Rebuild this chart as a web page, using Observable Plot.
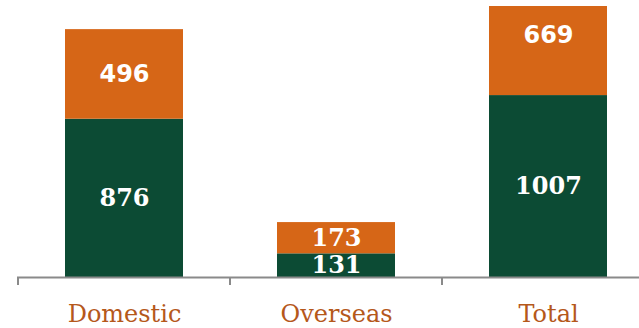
<!DOCTYPE html>
<html>
<head>
<meta charset="utf-8">
<script src="https://cdn.jsdelivr.net/npm/d3@7"></script>
<script src="https://cdn.jsdelivr.net/npm/@observablehq/plot@0.6"></script>
<style>
  html, body { margin: 0; padding: 0; background: #fff; }
  #chart svg { display: block; }
</style>
</head>
<body>
<div id="chart"></div>
<script>
const categories = ["Domestic", "Overseas", "Total"];
const seriesNames = ["Lower", "Upper"];
const lowerValues = [876, 131, 1007];
const upperValues = [496, 173, 669];

const GREEN = "#0c4b34";
const ORANGE = "#d66617";

const data = [];
categories.forEach((c, i) => {
  data.push({category: c, series: seriesNames[0], value: lowerValues[i]});
  data.push({category: c, series: seriesNames[1], value: upperValues[i]});
});

const stackOpts = {x: "category", y: "value", z: "series", order: seriesNames};

// tick marks at band boundaries, computed from the x scale
const boundaryTicks = (index, scales, values, dimensions, context) => {
  const x = scales.x, y = scales.y;
  const bw = typeof x.bandwidth === "function" ? x.bandwidth() : x.bandwidth;
  const step = x(categories[1]) - x(categories[0]);
  const g = d3.create("svg:g");
  const y0 = y(0);
  categories.forEach(c => {
    const bx = x(c) + bw / 2 - step / 2;
    g.append("line").attr("x1", bx).attr("x2", bx).attr("y1", y0).attr("y2", y0 + 8)
      .attr("stroke", "#8a8a8a").attr("stroke-width", 2);
  });
  return g.node();
};

const sansLabel = d => d.series === seriesNames[1] && d.category !== "Overseas";
const labelText = d => String(d.value);

const chart = Plot.plot({
  width: 639,
  height: 328,
  marginTop: 6,
  marginBottom: 51,
  marginLeft: 17,
  marginRight: 0,
  style: {background: "#fff", color: "#b5581b"},
  x: {domain: categories, range: [17, 654], paddingInner: 0.444, paddingOuter: 0.222, axis: null, label: null},
  y: {domain: [0, 1500], axis: null},
  color: {domain: seriesNames, range: [GREEN, ORANGE]},
  marks: [
    Plot.barY(data, Plot.stackY({...stackOpts, fill: "series", clip: true})),
    Plot.ruleY([0], {stroke: "#8a8a8a", strokeWidth: 2}),
    boundaryTicks,
    Plot.axisX({tickSize: 0, tickPadding: 27, fontSize: 24, fontFamily: "DejaVu Serif", fill: "#b5581b", label: null}),
    Plot.text(data, Plot.filter(sansLabel, Plot.stackY({...stackOpts, text: labelText, fill: "white",
      fontWeight: "bold", fontSize: 24, fontFamily: "DejaVu Sans"}))),
    Plot.text(data, Plot.filter(d => !sansLabel(d), Plot.stackY({...stackOpts, text: labelText, fill: "white",
      fontWeight: "bold", fontSize: 24, fontFamily: "DejaVu Serif"})))
  ]
});
document.getElementById("chart").appendChild(chart);
</script>
</body>
</html>
